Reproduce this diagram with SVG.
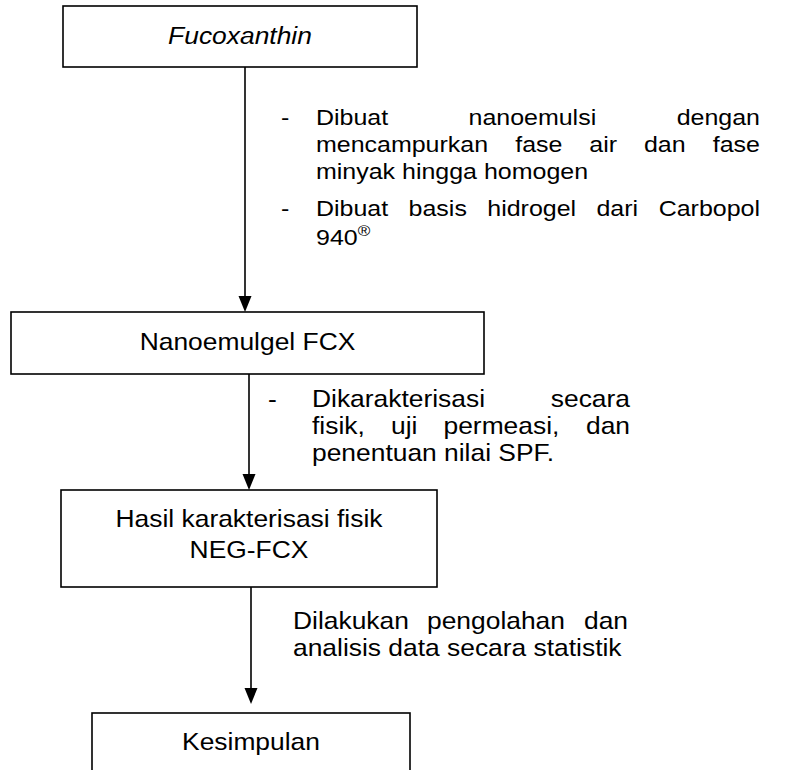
<svg xmlns="http://www.w3.org/2000/svg" width="806" height="770" viewBox="0 0 806 770">
<defs>
<style>
.box{fill:#fff;stroke:#000;stroke-width:1.6}
.t{font-family:"Liberation Sans",Arial,sans-serif;font-size:24px;fill:#000}
.t1{font-family:"Liberation Sans",Arial,sans-serif;font-size:22.7px;fill:#000}
.c{stroke:#000;stroke-width:1.6;fill:none}
.ah{fill:#000}
</style>
</defs>
<rect width="806" height="770" fill="#fff"/>
<g id="connectors">
<line class="c" x1="245" y1="67" x2="245" y2="297"/>
<path class="ah" d="M238.5,296 L251.5,296 L245,312 Z"/>
<line class="c" x1="249" y1="374" x2="249" y2="475"/>
<path class="ah" d="M242.5,474 L255.5,474 L249,490 Z"/>
<line class="c" x1="251" y1="587" x2="251" y2="689"/>
<path class="ah" d="M244.5,688 L257.5,688 L251,704 Z"/>
</g>
<g id="fucoxanthin">
<rect class="box" x="63" y="6" width="354" height="61"/>
<text class="t" transform="scale(1.1,1)" x="218.18" y="44" text-anchor="middle" font-style="italic">Fucoxanthin</text>
</g>
<g id="nanoemulgel">
<rect class="box" x="11" y="312" width="473" height="62"/>
<text class="t" transform="scale(1.1,1)" x="225" y="350" text-anchor="middle">Nanoemulgel FCX</text>
</g>
<g id="hasil">
<rect class="box" x="61" y="490" width="376" height="97"/>
<g class="t" transform="scale(1.1,1)" text-anchor="middle">
<text x="226.36" y="527">Hasil karakterisasi fisik</text>
<text x="226.36" y="558">NEG-FCX</text>
</g>
</g>
<g id="kesimpulan">
<rect class="box" x="92" y="713" width="318" height="80"/>
<text class="t" transform="scale(1.1,1)" x="228.18" y="750" text-anchor="middle">Kesimpulan</text>
</g>
<g id="label1" class="t1" transform="scale(1.1,1)">
<text x="255.45" y="125">-</text>
<text x="287.27" y="125">Dibuat</text>
<text x="425.91" y="125">nanoemulsi</text>
<text x="690.91" y="125" text-anchor="end">dengan</text>
<text x="287.27" y="152">mencampurkan</text>
<text x="468.36" y="152">fase</text>
<text x="535.73" y="152">air</text>
<text x="585.45" y="152">dan</text>
<text x="690.91" y="152" text-anchor="end">fase</text>
<text x="287.27" y="179">minyak hingga homogen</text>
<text x="255.45" y="216">-</text>
<text x="287.27" y="216">Dibuat</text>
<text x="371.45" y="216">basis</text>
<text x="443" y="216">hidrogel</text>
<text x="542.27" y="216">dari</text>
<text x="690.91" y="216" text-anchor="end">Carbopol</text>
<text x="287.27" y="245">940<tspan font-size="15.5" dy="-9">®</tspan></text>
</g>
<g id="label2" class="t" transform="scale(1.1,1)">
<text x="243.64" y="407">-</text>
<text x="283.64" y="407">Dikarakterisasi</text>
<text x="572.73" y="407" text-anchor="end">secara</text>
<text x="283.64" y="434">fisik,</text>
<text x="355.45" y="434">uji</text>
<text x="403.18" y="434">permeasi,</text>
<text x="572.73" y="434" text-anchor="end">dan</text>
<text x="283.64" y="461">penentuan nilai SPF.</text>
</g>
<g id="label3" class="t" transform="scale(1.1,1)">
<text x="266.36" y="629">Dilakukan</text>
<text x="388.18" y="629">pengolahan</text>
<text x="570.91" y="629" text-anchor="end">dan</text>
<text x="266.36" y="656">analisis data secara statistik</text>
</g>
</svg>
